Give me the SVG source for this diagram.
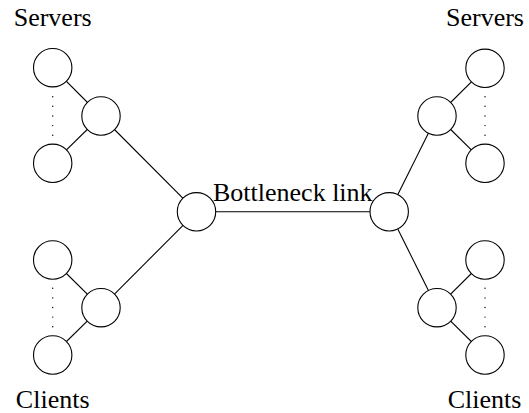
<svg xmlns="http://www.w3.org/2000/svg" width="529" height="413" viewBox="0 0 529 413">
<style>
.n{fill:#fff;stroke:#000;stroke-width:1.1}
.e{stroke:#000;stroke-width:1.1;fill:none}
.d{fill:#000}
.t{font-family:"Liberation Serif","Times New Roman",serif;font-size:26px;fill:#000;text-anchor:middle}
</style>
<rect width="529" height="413" fill="#fff"/>
<g id="connectors">
<line class="e" x1="52.7" y1="67.7" x2="101" y2="116"/>
<line class="e" x1="52.7" y1="163.3" x2="101" y2="116"/>
<line class="e" x1="101" y1="116" x2="196.5" y2="211.8"/>
<line class="e" x1="52.7" y1="260" x2="101" y2="307.7"/>
<line class="e" x1="52.7" y1="355" x2="101" y2="307.7"/>
<line class="e" x1="101" y1="307.7" x2="196.5" y2="211.8"/>
<line class="e" x1="196.5" y1="211.8" x2="389.2" y2="211.8"/>
<line class="e" x1="485" y1="68.3" x2="437" y2="116"/>
<line class="e" x1="485" y1="163.3" x2="437" y2="116"/>
<line class="e" x1="437" y1="116" x2="389.2" y2="211.8"/>
<line class="e" x1="485" y1="260" x2="437" y2="307.7"/>
<line class="e" x1="485" y1="355" x2="437" y2="307.7"/>
<line class="e" x1="437" y1="307.7" x2="389.2" y2="211.8"/>
</g>
<g id="dots">
<circle class="d" cx="52.7" cy="96.7" r="0.7"/><circle class="d" cx="52.7" cy="106.3" r="0.7"/><circle class="d" cx="52.7" cy="116" r="0.7"/><circle class="d" cx="52.7" cy="125.6" r="0.7"/><circle class="d" cx="52.7" cy="135.2" r="0.7"/>
<circle class="d" cx="52.7" cy="288.3" r="0.7"/><circle class="d" cx="52.7" cy="297.9" r="0.7"/><circle class="d" cx="52.7" cy="307.5" r="0.7"/><circle class="d" cx="52.7" cy="317.1" r="0.7"/><circle class="d" cx="52.7" cy="326.7" r="0.7"/>
<circle class="d" cx="485" cy="96.7" r="0.7"/><circle class="d" cx="485" cy="106.3" r="0.7"/><circle class="d" cx="485" cy="116" r="0.7"/><circle class="d" cx="485" cy="125.6" r="0.7"/><circle class="d" cx="485" cy="135.2" r="0.7"/>
<circle class="d" cx="485" cy="288.3" r="0.7"/><circle class="d" cx="485" cy="297.9" r="0.7"/><circle class="d" cx="485" cy="307.5" r="0.7"/><circle class="d" cx="485" cy="317.1" r="0.7"/><circle class="d" cx="485" cy="326.7" r="0.7"/>
</g>
<g id="ls1"><circle class="n" cx="52.7" cy="67.7" r="19.2"/></g>
<g id="ls2"><circle class="n" cx="52.7" cy="163.3" r="19.2"/></g>
<g id="lsh"><circle class="n" cx="101" cy="116" r="19.2"/></g>
<g id="lc1"><circle class="n" cx="52.7" cy="260" r="19.2"/></g>
<g id="lc2"><circle class="n" cx="52.7" cy="355" r="19.2"/></g>
<g id="lch"><circle class="n" cx="101" cy="307.7" r="19.2"/></g>
<g id="lcore"><circle class="n" cx="196.5" cy="211.8" r="19.2"/></g>
<g id="rcore"><circle class="n" cx="389.2" cy="211.8" r="19.2"/></g>
<g id="rs1"><circle class="n" cx="485" cy="68.3" r="19.2"/></g>
<g id="rs2"><circle class="n" cx="485" cy="163.3" r="19.2"/></g>
<g id="rsh"><circle class="n" cx="437" cy="116" r="19.2"/></g>
<g id="rc1"><circle class="n" cx="485" cy="260" r="19.2"/></g>
<g id="rc2"><circle class="n" cx="485" cy="355" r="19.2"/></g>
<g id="rch"><circle class="n" cx="437" cy="307.7" r="19.2"/></g>
<g id="labels">
<text class="t" x="52.7" y="26">Servers</text>
<text class="t" x="485" y="26">Servers</text>
<text class="t" x="52.7" y="407.5">Clients</text>
<text class="t" x="484.5" y="407.5">Clients</text>
<text class="t" x="292.8" y="201">Bottleneck link</text>
</g>
</svg>
